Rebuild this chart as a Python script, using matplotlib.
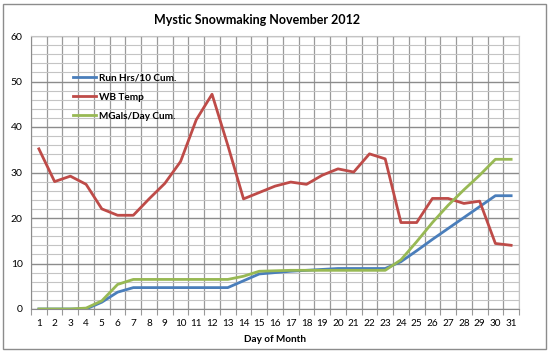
import matplotlib
matplotlib.use("Agg")
import matplotlib.pyplot as plt
from matplotlib.ticker import MultipleLocator, FixedLocator
from matplotlib.patches import Rectangle

plt.rcParams['font.family'] = ['Lato', 'DejaVu Sans']

days = list(range(1, 32))
run_hrs = [0, 0, 0, 0, 1.5, 3.7, 4.7, 4.7, 4.7, 4.7, 4.7, 4.7, 4.7, 6.2, 7.7, 8.0,
           8.3, 8.5, 8.7, 8.9, 8.9, 8.9, 8.9, 10.4, 12.8, 15.3, 17.7, 20.1, 22.5, 24.9, 24.9]
wb_temp = [35.2, 28.0, 29.2, 27.4, 22.0, 20.6, 20.6, 24.2, 27.6, 32.4, 41.6, 47.2, 36.0, 24.2,
           25.6, 27.0, 27.9, 27.4, 29.4, 30.8, 30.1, 34.1, 33.0, 19.0, 19.0, 24.3, 24.3, 23.2,
           23.7, 14.4, 14.0]
mgals = [0, 0, 0, 0.2, 1.8, 5.4, 6.5, 6.5, 6.5, 6.5, 6.5, 6.5, 6.5, 7.2, 8.3, 8.4,
         8.5, 8.5, 8.5, 8.5, 8.5, 8.5, 8.5, 10.8, 14.8, 19.0, 22.8, 26.2, 29.4, 32.9, 32.9]

fig = plt.figure(figsize=(5.5, 3.52), dpi=100)
ax = fig.add_axes([31/550, 1-309/352, 488/550, 273/352])

ax.plot(days, run_hrs, color='#4A7EBB', lw=2.0, label='Run Hrs/10 Cum.', zorder=3)
ax.plot(days, wb_temp, color='#BE4B48', lw=2.0, label='WB Temp', zorder=3)
ax.plot(days, mgals, color='#98B954', lw=2.0, label='MGals/Day Cum.', zorder=3)

ax.set_xlim(0.5, 31.5)
ax.set_ylim(0, 60)
ax.xaxis.set_major_locator(FixedLocator(days))
ax.set_xticklabels([str(d) for d in days], fontsize=7.2)
ax.xaxis.set_minor_locator(FixedLocator([d + 0.5 for d in range(0, 32)]))
ax.tick_params(axis='x', which='major', length=0, pad=7)
ax.tick_params(axis='x', which='minor', length=4, color='#999999', width=0.8)
ax.yaxis.set_major_locator(MultipleLocator(10))
ax.yaxis.set_minor_locator(MultipleLocator(2))
ax.tick_params(axis='y', which='both', length=0, labelsize=7.5, pad=6)

ax.grid(which='minor', axis='x', color='#9a9a9a', lw=0.9)
ax.grid(which='major', axis='y', color='#8c8c8c', lw=1.0)
ax.grid(which='minor', axis='y', color='#c4c4c4', lw=0.8)
ax.set_axisbelow(True)
for s in ['top', 'right']:
    ax.spines[s].set_color('#c4c4c4')
for s in ['left', 'bottom']:
    ax.spines[s].set_color('#8c8c8c')

fig.text(257/550, 1-20/352, 'Mystic Snowmaking November 2012', fontsize=9, fontweight='bold',
         ha='center', va='center')
ax.set_xlabel('Day of Month', fontsize=7.2, fontweight='bold', labelpad=5)

leg = ax.legend(loc='upper left', bbox_to_anchor=(0.068, 0.895), frameon=False,
                prop={'size': 7.2, 'weight': 'bold'}, handlelength=2.3, handletextpad=0.3,
                labelspacing=1.0)

fig.patches.append(Rectangle((3/550, 3/352), 543/550, 345/352, transform=fig.transFigure,
                             fill=False, edgecolor='#8c8c8c', lw=1.0))

fig.savefig('out.png', dpi=100)
